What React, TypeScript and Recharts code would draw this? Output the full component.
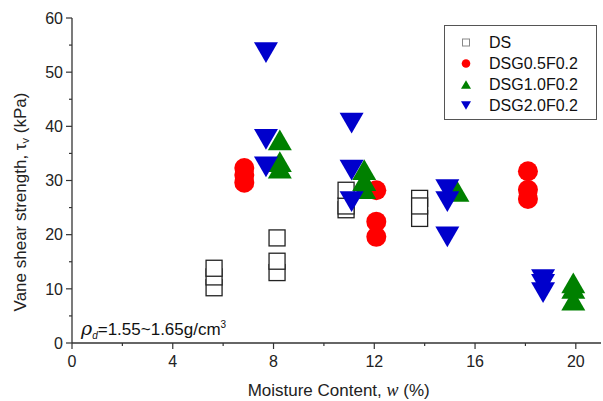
import React from 'react';
import { ScatterChart, Scatter, XAxis, YAxis, ZAxis, Legend } from 'recharts';

// moisture content (%) vs vane shear strength (kPa)
const dsData = [
  { w: 5.64, tau: 10.2 }, { w: 5.64, tau: 12.2 }, { w: 5.64, tau: 13.8 },
  { w: 8.14, tau: 13.0 }, { w: 8.14, tau: 15.1 }, { w: 8.14, tau: 19.4 },
  { w: 10.88, tau: 24.6 }, { w: 10.88, tau: 25.3 }, { w: 10.88, tau: 28.2 },
  { w: 13.8, tau: 26.7 }, { w: 13.8, tau: 23.0 }, { w: 13.8, tau: 25.3 },
];

const g05Data = [
  { w: 6.84, tau: 32.3 }, { w: 6.84, tau: 31.0 }, { w: 6.84, tau: 29.6 },
  { w: 12.08, tau: 28.2 }, { w: 12.08, tau: 22.4 }, { w: 12.08, tau: 19.6 },
  { w: 18.1, tau: 31.7 }, { w: 18.1, tau: 28.3 }, { w: 18.1, tau: 26.6 },
];

const g10Data = [
  { w: 8.25, tau: 37.5 }, { w: 8.25, tau: 33.5 }, { w: 8.25, tau: 32.3 },
  { w: 11.6, tau: 32.0 }, { w: 11.6, tau: 30.0 }, { w: 11.6, tau: 28.5 },
  { w: 15.3, tau: 28.0 },
  { w: 19.9, tau: 11.1 }, { w: 19.9, tau: 10.1 }, { w: 19.9, tau: 7.9 },
];

const g20Data = [
  { w: 7.7, tau: 53.6 }, { w: 7.7, tau: 37.6 }, { w: 7.7, tau: 32.5 },
  { w: 11.1, tau: 40.6 }, { w: 11.1, tau: 31.9 }, { w: 11.1, tau: 26.1 },
  { w: 14.9, tau: 28.3 }, { w: 14.9, tau: 26.1 }, { w: 14.9, tau: 19.6 },
  { w: 18.7, tau: 11.7 }, { w: 18.7, tau: 10.8 }, { w: 18.7, tau: 9.3 },
];

const xTicks = [0, 2, 4, 6, 8, 10, 12, 14, 16, 18, 20];
const yTicks = [0, 5, 10, 15, 20, 25, 30, 35, 40, 45, 50, 55, 60];

const AXIS = '#333';
const FONT = '"Liberation Sans", Arial, sans-serif';

const Square = ({ cx, cy }: any) => (
  <rect x={cx - 8} y={cy - 8} width={16} height={16} fill="#fff" stroke="#222" strokeWidth={1.3} />
);
const Dot = ({ cx, cy }: any) => <circle cx={cx} cy={cy} r={10} fill="#ff0000" />;
const Up = ({ cx, cy }: any) => (
  <polygon points={`${cx - 12},${cy + 10.4} ${cx + 12},${cy + 10.4} ${cx},${cy - 10.4}`} fill="#008000" />
);
const Down = ({ cx, cy }: any) => (
  <polygon points={`${cx - 12},${cy - 10.4} ${cx + 12},${cy - 10.4} ${cx},${cy + 10.4}`} fill="#0000cc" />
);

const BottomTick = ({ x, y, payload }: any) => {
  const major = payload.value % 4 === 0;
  return (
    <g>
      <line x1={x} x2={x} y1={y} y2={y + (major ? 6 : 3)} stroke={AXIS} strokeWidth={1.2} />
      {major && (
        <text x={x} y={y + 23.5} textAnchor="middle" fontSize={16} fontFamily={FONT} fill="#222">
          {payload.value}
        </text>
      )}
    </g>
  );
};
const TopTick = ({ x, y }: any) => <line x1={x} x2={x} y1={y} y2={y + 4} stroke={AXIS} strokeWidth={1.2} />;
const LeftTick = ({ x, y, payload }: any) => {
  const major = payload.value % 10 === 0;
  return (
    <g>
      <line x1={x - (major ? 6 : 3)} x2={x} y1={y} y2={y} stroke={AXIS} strokeWidth={1.2} />
      {major && (
        <text x={x - 9} y={y + 5.7} textAnchor="end" fontSize={16} fontFamily={FONT} fill="#222">
          {payload.value}
        </text>
      )}
    </g>
  );
};
const RightTick = ({ x, y }: any) => <line x1={x - 4} x2={x} y1={y} y2={y} stroke={AXIS} strokeWidth={1.2} />;

const legendItems = [
  { name: 'DS', mark: <rect x={-3.5} y={-3.5} width={7} height={7} fill="#fff" stroke="#888" /> },
  { name: 'DSG0.5F0.2', mark: <circle r={4.3} fill="#ff0000" /> },
  { name: 'DSG1.0F0.2', mark: <polygon points="-5,4.3 5,4.3 0,-4.3" fill="#008000" /> },
  { name: 'DSG2.0F0.2', mark: <polygon points="-5,-4.3 5,-4.3 0,4.3" fill="#0000cc" /> },
];

const LegendBox = () => (
  <div
    style={{
      width: 151, height: 93, border: '1px solid #555', background: '#fff',
      fontFamily: FONT, fontSize: 16, color: '#111', boxSizing: 'content-box',
    }}
  >
    {legendItems.map((it, i) => (
      <div key={it.name} style={{ position: 'absolute', left: 0, top: 7 + i * 21, height: 21, display: 'flex', alignItems: 'center' }}>
        <svg width={44} height={21} style={{ display: 'block' }}>
          <g transform="translate(22,10.5)">{it.mark}</g>
        </svg>
        <span style={{ marginLeft: 1, lineHeight: '21px' }}>{it.name}</span>
      </div>
    ))}
  </div>
);

export default function App() {
  return (
    <div style={{ position: 'absolute', left: 0, top: 0, width: 603, height: 401, background: '#fff' }}>
      <ScatterChart width={603} height={401} margin={{ top: 18, right: 2, bottom: 0, left: 0 }}>
        <XAxis
          dataKey="w" type="number" domain={[0, 21]} ticks={xTicks} interval={0}
          height={58} tickSize={0} tickMargin={0} tick={<BottomTick />}
          axisLine={{ stroke: AXIS, strokeWidth: 1.3 }} tickLine={false}
        />
        <XAxis
          xAxisId="top" orientation="top" type="number" domain={[0, 21]} allowDataOverflow
          ticks={xTicks} interval={0} height={0} tickSize={0} tickMargin={0} tick={<TopTick />}
          axisLine={{ stroke: AXIS, strokeWidth: 1.3 }} tickLine={false}
        />
        <YAxis
          dataKey="tau" type="number" domain={[0, 60]} ticks={yTicks} interval={0}
          width={72} tickSize={0} tickMargin={0} tick={<LeftTick />}
          axisLine={{ stroke: AXIS, strokeWidth: 1.3 }} tickLine={false}
        />
        <YAxis
          yAxisId="right" orientation="right" type="number" domain={[0, 60]} allowDataOverflow
          ticks={yTicks} interval={0} width={0} tickSize={0} tickMargin={0} tick={<RightTick />}
          axisLine={{ stroke: AXIS, strokeWidth: 1.3 }} tickLine={false}
        />
        <ZAxis range={[200, 200]} />
        <Legend
          layout="vertical" align="center" verticalAlign="middle" content={<LegendBox />}
          wrapperStyle={{ position: 'absolute', left: 444, top: 25, width: 153, height: 95 }}
        />
        <Scatter name="DS" data={dsData} shape={<Square />} isAnimationActive={false} />
        <Scatter name="DSG0.5F0.2" data={g05Data} shape={<Dot />} isAnimationActive={false} />
        <Scatter name="DSG1.0F0.2" data={g10Data} shape={<Up />} isAnimationActive={false} />
        <Scatter name="DSG2.0F0.2" data={g20Data} shape={<Down />} isAnimationActive={false} />
      </ScatterChart>

      <div
        style={{
          position: 'absolute', left: 23, top: 202, transform: 'translate(-50%, -50%) rotate(-90deg)',
          whiteSpace: 'nowrap', fontFamily: FONT, fontSize: 17, color: '#222', lineHeight: '17px',
        }}
      >
        Vane shear strength, τ<sub style={{ fontSize: 11, verticalAlign: '-3px' }}>v</sub> (kPa)
      </div>

      <div
        style={{
          position: 'absolute', left: 188.7, width: 300, top: 382, textAlign: 'center',
          whiteSpace: 'nowrap', fontFamily: FONT, fontSize: 17, color: '#222', lineHeight: '17px',
        }}
      >
        Moisture Content, <i style={{ fontFamily: '"Liberation Serif", serif', fontSize: 18 }}>w</i> (%)
      </div>

      <div
        style={{
          position: 'absolute', left: 81, top: 315.6, whiteSpace: 'nowrap',
          fontFamily: FONT, fontSize: 17, color: '#111', lineHeight: '17px',
        }}
      >
        <i style={{ fontFamily: '"DejaVu Serif", serif', fontSize: 19 }}>ρ</i>
        <sub style={{ fontSize: 10, fontStyle: 'italic', verticalAlign: '-4px' }}>d</sub>
        =1.55~1.65g/cm<sup style={{ fontSize: 10, verticalAlign: '7px' }}>3</sup>
      </div>
    </div>
  );
}
